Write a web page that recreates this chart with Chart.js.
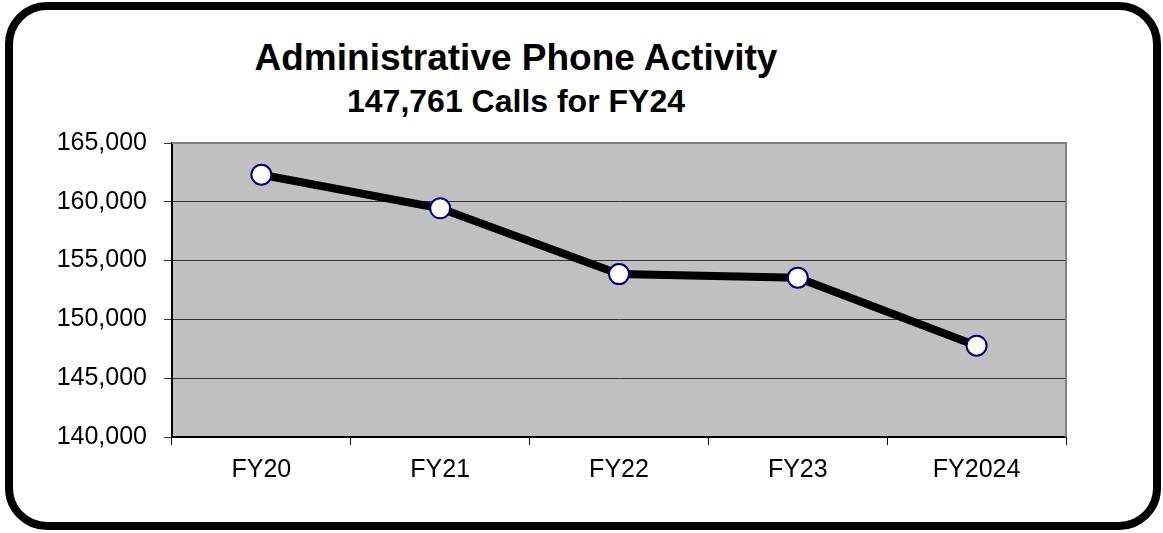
<!DOCTYPE html>
<html>
<head>
<meta charset="utf-8">
<title>Administrative Phone Activity</title>
<script src="https://cdn.jsdelivr.net/npm/chart.js@4/dist/chart.umd.min.js"></script>
<style>
  body { margin: 0; background: #fff; font-family: "Liberation Sans", Arial, sans-serif; }
  #wrap { position: relative; width: 1163px; height: 533px; overflow: hidden; }
  #frame {
    position: absolute; left: 5px; top: 2px; width: 1156px; height: 528px;
    box-sizing: border-box; border: 8px solid #000; border-radius: 42px;
  }
  .title { position: absolute; left: 0; width: 1032px; text-align: center; font-weight: bold; color: #000; line-height: 1; white-space: nowrap; }
  #t1 { top: 39px; font-size: 37px; }
  #t2 { top: 85px; font-size: 32px; }
  canvas { position: absolute; left: 0; top: 0; }
</style>
</head>
<body>
<div id="wrap">
  <div id="frame"></div>
  <div class="title" id="t1">Administrative Phone Activity</div>
  <div class="title" id="t2">147,761 Calls for FY24</div>
  <canvas id="phoneChart" width="1163" height="533"></canvas>
</div>
<script>
// Chart data
const categories = ['FY20', 'FY21', 'FY22', 'FY23', 'FY2024'];
const calls = [162300, 159450, 153850, 153550, 147761];

// Y axis range
const yMin = 140000;
const yMax = 165000;
const yStep = 5000;

// Gray plot background + gray top/right edges, like the old Excel look
const plotArea = {
  id: 'plotArea',
  beforeDraw(chart) {
    const { ctx, chartArea: a } = chart;
    ctx.save();
    ctx.fillStyle = '#c0c0c0';
    ctx.fillRect(a.left, a.top, a.right - a.left, a.bottom - a.top);
    ctx.restore();
  },
  beforeDatasetsDraw(chart) {
    const { ctx, chartArea: a } = chart;
    ctx.save();
    ctx.strokeStyle = '#808080';
    ctx.lineWidth = 2;
    ctx.beginPath();
    ctx.moveTo(a.left, a.top);
    ctx.lineTo(a.right, a.top);
    ctx.lineTo(a.right, a.bottom);
    ctx.stroke();
    ctx.restore();
  }
};

const tickFont = { family: '"Liberation Sans", Arial, sans-serif', size: 25 };

const ctx = document.getElementById('phoneChart');

new Chart(ctx, {
  type: 'line',
  data: {
    labels: categories,
    datasets: [{
      label: 'Calls',
      data: calls,
      borderColor: '#000000',
      borderWidth: 8,
      tension: 0,
      pointRadius: 10,
      pointHoverRadius: 10,
      pointBackgroundColor: '#ffffff',
      pointBorderColor: '#000080',
      pointBorderWidth: 2
    }]
  },
  options: {
    responsive: false,
    animation: false,
    layout: {
      padding: { top: 143, right: 97, bottom: 0, left: 0 }
    },
    plugins: {
      legend: { display: false },
      tooltip: { enabled: false }
    },
    scales: {
      x: {
        offset: true,
        grid: {
          offset: true,
          drawOnChartArea: false,
          drawTicks: true,
          tickLength: 8,
          color: '#000'
        },
        border: { color: '#000', width: 2 },
        ticks: {
          color: '#000',
          padding: 10,
          font: tickFont
        },
        afterFit(scale) { scale.height = 96; }
      },
      y: {
        min: yMin,
        max: yMax,
        grid: {
          color: '#333333',
          lineWidth: 1,
          drawTicks: true,
          tickLength: 8
        },
        border: { color: '#000', width: 2 },
        ticks: {
          stepSize: yStep,
          color: '#000',
          padding: 17,
          font: tickFont,
          callback: function(value) {
            return value.toLocaleString('en-US');
          }
        },
        afterFit(scale) { scale.width = 172; }
      }
    }
  },
  plugins: [plotArea]
});
</script>
</body>
</html>
